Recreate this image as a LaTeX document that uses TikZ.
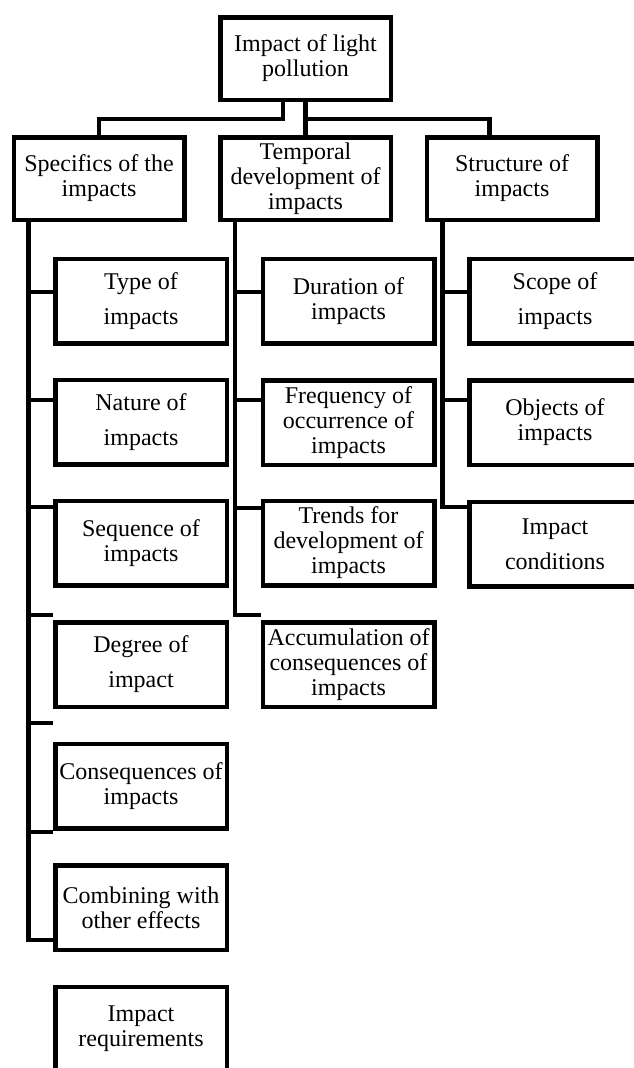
\documentclass[tikz,border=0pt]{standalone}
\usepackage{fontspec}
\setmainfont{Liberation Serif}
\begin{document}
\begin{tikzpicture}[x=1pt, y=-1pt,
  box/.style={draw, line width=4.5pt, fill=white, align=center, inner sep=2pt,
    minimum width=171.5pt, minimum height=84.5pt, font=\fontsize{24}{25}\selectfont},
  head/.style={box, minimum width=170.5pt, minimum height=82.5pt},
  roomy/.style={font=\fontsize{24}{35}\selectfont},
  link/.style={line width=4.8pt}]
  \useasboundingbox (0,0) rectangle (634,1068);
  \clip (0,0) rectangle (634,1068);
  \node[head] (root) at (305.5,58.5) {Impact of light\\pollution};
  \node[head] (specifics) at (99,178.5) {Specifics of the\\impacts};
  \node[head] (temporal) at (305.5,178.5) {Temporal\\development of\\impacts};
  \node[head] (structure) at (512,178.5) {Structure of\\impacts};
  \node[box, roomy] (type) at (141,301) {Type of\\impacts};
  \node[box, roomy] (nature) at (141,422) {Nature of\\impacts};
  \node[box] (sequence) at (141,543) {Sequence of\\impacts};
  \node[box, roomy] (degree) at (141,664.5) {Degree of\\impact};
  \node[box] (conseq) at (141,786) {Consequences of\\impacts};
  \node[box] (combining) at (141,907.5) {Combining with\\other effects};
  \node[box] (requirements) at (141,1029) {Impact\\requirements};
  \node[box] (duration) at (348.5,301) {Duration of\\impacts};
  \node[box] (frequency) at (348.5,422.5) {Frequency of\\occurrence of\\impacts};
  \node[box] (trends) at (348.5,543) {Trends for\\development of\\impacts};
  \node[box] (accumulation) at (348.5,664.5) {Accumulation of\\consequences of\\impacts};
  \node[box, roomy] (scope) at (555,301) {Scope of\\impacts};
  \node[box] (objects) at (555,422.5) {Objects of\\impacts};
  \node[box, roomy] (conditions) at (555,544) {Impact\\conditions};
  \coordinate (hub) at ([yshift=-17pt]root.south);
  \draw[link] ([xshift=-22.5pt]root.south) -- ++(0,17) -| (specifics.north);
  \draw[link] (root) -- (temporal);
  \draw[link] (hub) -| ([xshift=-22.5pt]structure.north);
  \coordinate (sp1) at ([xshift=17pt]specifics.south west);
  \coordinate (sp2) at ([xshift=17pt]temporal.south west);
  \coordinate (sp3) at ([xshift=18pt]structure.south west);
  \draw[link] (sp1) |- (requirements.west |- 0,940);
  \foreach \n/\y in {type/292,nature/400,sequence/507,degree/615,conseq/723,combining/832}
    \draw[link] (sp1 |- 0,\y) -- (\n.west |- 0,\y);
  \draw[link] (sp2) |- (accumulation.west |- 0,615);
  \foreach \n/\y in {duration/292,frequency/400,trends/508}
    \draw[link] (sp2 |- 0,\y) -- (\n.west |- 0,\y);
  \draw[link] (sp3) |- (conditions.west |- 0,507);
  \foreach \n/\y in {scope/292,objects/400}
    \draw[link] (sp3 |- 0,\y) -- (\n.west |- 0,\y);
\end{tikzpicture}
\end{document}
